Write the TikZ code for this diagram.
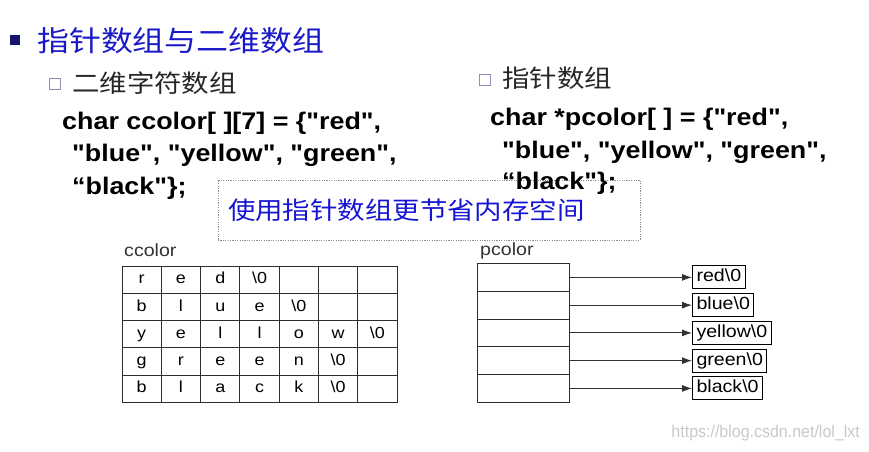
\documentclass[tikz,border=0pt]{standalone}
\usepackage{fontspec}
\setmainfont{Liberation Sans}
\newfontfamily\cjk[FakeStretch=1.12]{Noto Sans CJK SC}
\newfontfamily\codefont[FakeStretch=1.12]{Liberation Sans}
\newfontfamily\labelfont[FakeStretch=1.12]{Liberation Sans}
\newfontfamily\markfont[FakeStretch=0.94]{Liberation Sans}
\usetikzlibrary{arrows.meta}

\definecolor{titleblue}{RGB}{25,25,200}
\definecolor{hintblue}{RGB}{20,20,210}
\definecolor{navy}{RGB}{20,20,110}
\definecolor{subgray}{RGB}{140,140,185}
\definecolor{gridgray}{RGB}{45,45,45}
\definecolor{arrowgray}{RGB}{50,50,50}
\definecolor{markgray}{RGB}{200,200,200}

\newcommand{\nulch}{\textbackslash 0}

\begin{document}
\begin{tikzpicture}[
    x=1pt,
    y=-1pt,
    title/.style={anchor=west,inner sep=0pt,text=titleblue,font=\cjk\fontsize{28.5}{30}\selectfont},
    subtitle/.style={anchor=west,inner sep=0pt,text=black!85,font=\cjk\fontsize{24.5}{26}\selectfont},
    codeline/.style={anchor=base west,inner sep=0pt,font=\codefont\bfseries\fontsize{24}{26}\selectfont},
    bulletbox/.style={draw=subgray,line width=1.3pt,minimum size=11pt,inner sep=0pt},
    hintbox/.style={draw=black!45,line width=0.6pt,dash pattern=on 1.2pt off 1.2pt,
        text width=402pt,align=left,inner xsep=10pt,minimum height=60pt,
        text=hintblue,font=\cjk\fontsize{24.5}{26}\selectfont},
    namelabel/.style={anchor=base west,inner sep=0pt,text=black!80,font=\labelfont\fontsize{17.5}{18}\selectfont},
    cell/.style={draw=gridgray,line width=1pt,minimum width=39.3pt,minimum height=27.25pt,
        inner sep=0pt,text height=8.3pt,text depth=0pt,font=\labelfont\fontsize{16}{16}\selectfont},
    ptrcell/.style={draw=gridgray,line width=1pt,minimum width=92pt,minimum height=27.76pt,inner sep=0pt},
    strbox/.style={draw=black,line width=1pt,anchor=west,minimum height=23pt,
        inner xsep=4pt,inner ysep=0pt,text height=9.1pt,text depth=0pt,
        font=\labelfont\fontsize{17.5}{18}\selectfont},
    ptrarrow/.style={-{Latex[length=10pt,width=7pt]},line width=0.9pt,draw=arrowgray}
]
\useasboundingbox (0,0) rectangle (869,451);

% -------------------------------------------------
% Заголовок
% -------------------------------------------------
\node[fill=navy,minimum size=10pt,inner sep=0pt] (mainbullet) at (15,40) {};
\node[title] (maintitle) at (37,41) {指针数组与二维数组};

% -------------------------------------------------
% Двумерный массив символов (слева)
% -------------------------------------------------
\node[bulletbox] (leftbullet) at (55,84) {};
\node[subtitle] (lefttitle) at (72,83) {二维字符数组};
\node[codeline] (lcode1) at (62,129) {char ccolor[ ][7] = \{"red",};
\node[codeline] (lcode2) at (72,161) {"blue", "yellow", "green",};
\node[codeline] (lcode3) at (72,194) {“black"\};};

% -------------------------------------------------
% Массив указателей (справа)
% -------------------------------------------------
\node[bulletbox] (rightbullet) at (485,80) {};
\node[subtitle] (righttitle) at (502,78) {指针数组};

% Подсказка в пунктирной рамке
\node[hintbox] (hint) at (429,210) {使用指针数组更节省内存空间};

\node[codeline] (rcode1) at (490,125) {char *pcolor[ ] = \{"red",};
\node[codeline] (rcode2) at (502,158) {"blue", "yellow", "green",};
\node[codeline] (rcode3) at (502,189) {“black"\};};

% -------------------------------------------------
% Таблица ccolor
% -------------------------------------------------
\node[namelabel] (ccolorname) at (124,256) {ccolor};
\foreach \letters [count=\r] in {
    {r,e,d,\nulch,{},{},{}},
    {b,l,u,e,\nulch,{},{}},
    {y,e,l,l,o,w,\nulch},
    {g,r,e,e,n,\nulch,{}},
    {b,l,a,c,k,\nulch,{}}}{
  \foreach \ch [count=\c] in \letters {
    \node[cell] (cc-\r-\c) at ({122+39.3*(\c-0.5)},{266+27.25*(\r-0.5)}) {\ch};
  }
}

% -------------------------------------------------
% Указатели pcolor и строки
% -------------------------------------------------
\node[namelabel] (pcolorname) at (480,255) {pcolor};
\foreach \word [count=\i] in {red,blue,yellow,green,black}{
  \node[ptrcell] (p\i) at (523,{263.5+27.76*(\i-0.5)}) {};
  \node[strbox] (t\i) at (692,{263.5+27.76*(\i-0.5)}) {\word\nulch};
  \draw[ptrarrow] (p\i.east) -- (t\i.west);
}

% Водяной знак
\node[anchor=east,inner sep=0pt,text=markgray,font=\markfont\fontsize{17}{17}\selectfont] (watermark) at (860,433) {https://blog.csdn.net/lol\_lxt};

\end{tikzpicture}
\end{document}
